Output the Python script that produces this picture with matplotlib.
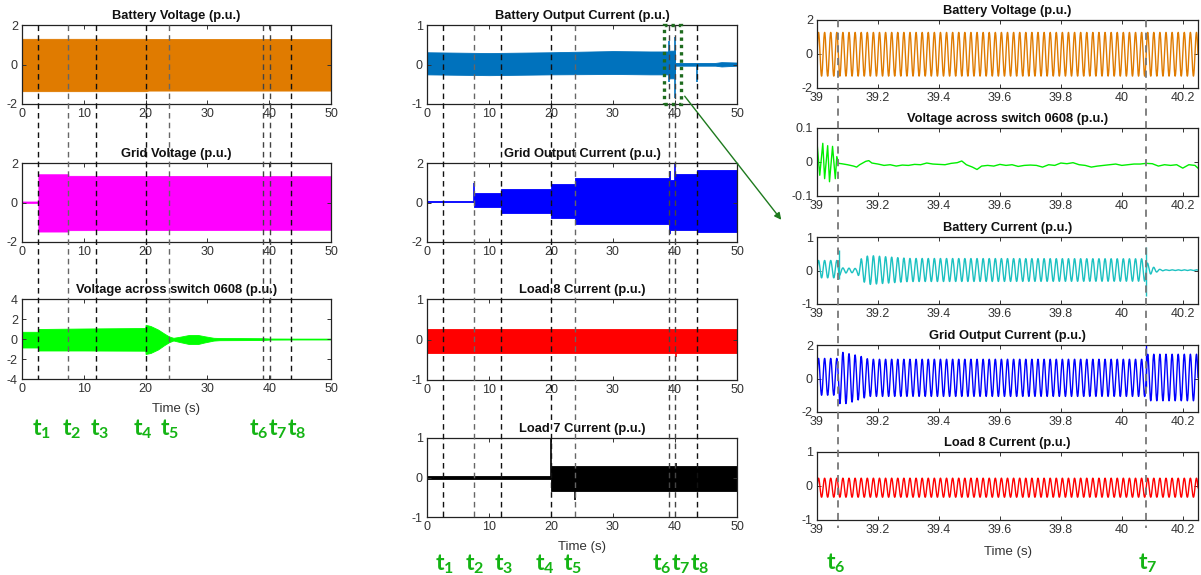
import numpy as np
import matplotlib
matplotlib.use('Agg')
import matplotlib.pyplot as plt
from matplotlib.lines import Line2D
from matplotlib.patches import Rectangle, FancyArrowPatch
import matplotlib.transforms as mtransforms

plt.rcParams['font.family'] = ['Liberation Sans', 'DejaVu Sans']
plt.rcParams['axes.unicode_minus'] = False
plt.rcParams['mathtext.fontset'] = 'custom'
plt.rcParams['mathtext.bf'] = 'Lato:bold'
plt.rcParams['mathtext.rm'] = 'Lato:bold'

# ---------------- data ----------------
event_times = [2.65, 7.5, 11.9, 20.0, 23.8, 39.07, 40.08, 43.5]
event_names = ['1', '2', '3', '4', '5', '6', '7', '8']
left_label_x = [3.2, 8.0, 12.6, 19.6, 23.8, 38.3, 41.4, 44.5]
mid_label_x = [2.9, 7.7, 12.3, 19.0, 23.5, 37.8, 41.0, 44.0]

# Left column envelopes (time, upper, lower)
bv_t = [0, 20, 20.5, 50]
bv_hi = [1.30, 1.30, 1.29, 1.29]
bv_lo = [-1.35, -1.35, -1.32, -1.32]

gv_t = [0, 2.65, 2.65, 7.5, 7.5, 50]
gv_hi = [0.05, 0.05, 1.43, 1.43, 1.35, 1.33]
gv_lo = [-0.02, -0.02, -1.47, -1.47, -1.40, -1.38]

sw_t = [0, 2.65, 2.65, 10, 19.95, 20.0, 20.8, 22.0, 23.0, 23.8, 24.5, 25.5, 27.0, 28.5, 29.5, 31.0, 32.0, 36.0, 39.0, 40.0, 45.0, 50.0]
sw_hi = [0.72, 0.72, 1.0, 1.05, 1.1, 1.42, 1.30, 0.95, 0.55, 0.25, 0.12, 0.22, 0.40, 0.40, 0.28, 0.12, 0.10, 0.09, 0.08, 0.05, 0.04, 0.04]
sw_lo = [-0.85, -0.85, -1.15, -1.15, -1.17, -1.50, -1.40, -1.05, -0.62, -0.32, -0.15, -0.30, -0.50, -0.50, -0.35, -0.16, -0.12, -0.11, -0.10, -0.06, -0.05, -0.05]

# Middle column envelopes
bc_t = [0, 10, 20, 30, 36, 39.0, 39.0, 40.0, 40.0, 46.5, 47.5, 50]
bc_hi = [0.31, 0.29, 0.31, 0.34, 0.33, 0.33, 0.35, 0.35, 0.04, 0.04, 0.06, 0.05]
bc_lo = [-0.25, -0.27, -0.25, -0.24, -0.25, -0.25, -0.35, -0.35, -0.03, -0.03, -0.05, -0.03]
bc_spikes = [(39.07, -0.45, 0.60), (40.05, -0.85, 0.70), (43.5, -0.45, 0.0)]

go_t = [0, 7.5, 7.5, 11.9, 11.9, 20, 20, 23.8, 23.8, 39.0, 39.0, 39.2, 39.2, 40.0, 40.0, 43.5, 43.5, 50]
go_hi = [0.06, 0.06, 0.46, 0.46, 0.68, 0.68, 0.96, 0.96, 1.22, 1.22, 1.60, 1.60, 1.16, 1.16, 1.46, 1.46, 1.63, 1.63]
go_lo = [0.02, 0.02, -0.22, -0.22, -0.54, -0.54, -0.76, -0.76, -1.10, -1.10, -1.55, -1.55, -1.40, -1.40, -1.40, -1.40, -1.50, -1.50]
go_spikes = [(7.5, 0.0, 1.0), (40.05, -0.5, 2.0)]

l8_t = [0, 50]
l8_hi = [0.26, 0.26]
l8_lo = [-0.34, -0.34]
l8_spikes = [(40.1, -0.42, 0.0)]

l7_t = [0, 19.95, 19.95, 50]
l7_hi = [0.03, 0.03, 0.28, 0.28]
l7_lo = [-0.035, -0.035, -0.34, -0.34]
l7_spikes = [(20.0, 0.0, 1.0), (23.8, -0.58, 0.0), (40.1, 0.0, 0.37)]

# Right column (zoom 39 - 40.25 s): 50 Hz waveforms with envelopes
zoom_freq_hz = 50.0
bvz_t = [39.0, 40.25]
bvz_hi = [1.27, 1.27]
bvz_lo = [-1.30, -1.30]

bcz_t = [39.0, 39.068, 39.08, 39.13, 39.145, 39.17, 39.3, 40.075, 40.09, 40.12, 40.14, 40.25]
bcz_hi = [0.30, 0.30, 0.08, 0.06, 0.35, 0.45, 0.36, 0.35, 0.15, 0.04, 0.02, 0.02]
bcz_lo = [-0.22, -0.22, -0.08, -0.06, -0.30, -0.42, -0.33, -0.32, -0.12, -0.03, 0.0, 0.0]
bcz_spikes = [(39.072, -0.25, 0.62), (40.08, -0.76, 0.70)]

gz_t = [39.0, 39.068, 39.075, 39.10, 39.14, 39.17, 40.075, 40.085, 40.25]
gz_hi = [1.20, 1.20, 1.60, 1.50, 1.35, 1.15, 1.15, 1.45, 1.45]
gz_lo = [-1.00, -1.00, -1.50, -1.50, -1.25, -1.07, -1.07, -1.33, -1.33]
gz_spikes = [(40.08, -0.5, 2.0)]

l8z_t = [39.0, 40.25]
l8z_hi = [0.23, 0.23]
l8z_lo = [-0.33, -0.33]

swz_t = [39.0, 39.009, 39.019, 39.025, 39.035, 39.041, 39.051, 39.060, 39.065, 39.071,
         39.08, 39.10, 39.12, 39.13, 39.14, 39.16, 39.17, 39.18, 39.20, 39.22, 39.24, 39.26,
         39.28, 39.30, 39.32, 39.34, 39.36, 39.38, 39.40, 39.42, 39.44, 39.46, 39.475, 39.49,
         39.51, 39.525, 39.54, 39.56, 39.58, 39.60, 39.62, 39.64, 39.66, 39.68, 39.70, 39.72,
         39.74, 39.76, 39.78, 39.80, 39.82, 39.84, 39.86, 39.88, 39.90, 39.92, 39.94, 39.96,
         39.98, 40.00, 40.02, 40.04, 40.06, 40.08, 40.10, 40.12, 40.14, 40.16, 40.18, 40.20,
         40.22, 40.24, 40.25]
swz_v = [0.058, -0.039, 0.055, -0.049, 0.048, -0.058, 0.046, -0.049, 0.016, -0.004,
         -0.005, -0.008, -0.012, -0.015, -0.008, 0.002, 0.004, -0.003, -0.006, -0.010, -0.008, -0.012,
         -0.009, -0.010, -0.007, -0.008, -0.003, -0.006, -0.007, -0.008, -0.004, -0.002, 0.003, -0.008,
         -0.015, -0.022, -0.012, -0.010, -0.012, -0.007, -0.010, -0.008, -0.013, -0.010, -0.009, -0.010,
         -0.015, -0.008, -0.010, -0.003, -0.005, -0.002, -0.008, -0.010, -0.015, -0.012, -0.010, -0.008,
         -0.006, -0.010, -0.008, -0.006, -0.006, -0.004, -0.005, -0.012, -0.008, -0.010, -0.008, -0.018,
         -0.008, -0.010, -0.018]

# ---------------- styling helpers ----------------
W, H = 1201, 575
fig = plt.figure(figsize=(W / 100, H / 100), dpi=100)
TXT = '#333333'
GREEN_T = '#14B414'


def make_ax(x0, x1, ytop, ybot):
    ax = fig.add_axes([x0 / W, 1 - ybot / H, (x1 - x0) / W, (ybot - ytop) / H])
    ax.tick_params(direction='in', top=True, right=True, length=3, width=0.7,
                   labelsize=9, colors=TXT, pad=3)
    for s in ax.spines.values():
        s.set_linewidth(0.9)
        s.set_color('#222222')
    return ax


def style(ax, title, xlim, xticks, ylim, yticks, yticklabels=None):
    ax.set_xlim(*xlim)
    ax.set_ylim(*ylim)
    ax.set_xticks(xticks)
    ax.set_yticks(yticks)
    if yticklabels is not None:
        ax.set_yticklabels(yticklabels)
    ax.set_title(title, fontsize=9.3, fontweight='bold', pad=4, color='#111111')


def band(ax, t, hi, lo, color):
    ax.fill_between(t, lo, hi, color=color, linewidth=0.6, edgecolor=color)


def spikes(ax, sp, color, lw=1.0):
    for (x, lo, hi) in sp:
        ax.vlines(x, lo, hi, color=color, linewidth=lw)


def wave(ax, t, hi, lo, color, sp=None, lw=1.0):
    tt = np.linspace(39.0, 40.25, 6000)
    h = np.interp(tt, t, hi)
    l = np.interp(tt, t, lo)
    mid = (h + l) / 2
    amp = (h - l) / 2
    y = mid + amp * np.sin(2 * np.pi * zoom_freq_hz * (tt - 39.0))
    ax.plot(tt, y, color=color, linewidth=lw)
    if sp:
        spikes(ax, sp, color, lw)


def vlines_fig(ax, times, ytop, ybot, colors, lw=1.0):
    tr = mtransforms.blended_transform_factory(ax.transData, fig.transFigure)
    for x, c in zip(times, colors):
        fig.lines.append(Line2D([x, x], [1 - ytop / H, 1 - ybot / H], transform=tr,
                                color=c, linestyle=(0, (4, 3)), linewidth=lw, zorder=10))


def tlabels(ax, xs, names, y):
    tr = mtransforms.blended_transform_factory(ax.transData, fig.transFigure)
    for x, n in zip(xs, names):
        fig.text(x, 1 - y / H, r'$\mathbf{t_{%s}}$' % n, transform=tr, ha='center', va='center',
                 fontsize=16.5, color=GREEN_T)


line_cols = ['#111111', '#666666', '#111111', '#111111', '#666666', '#444444', '#444444', '#111111']

# ---------------- left column ----------------
LX0, LX1 = 22, 331
axL1 = make_ax(LX0, LX1, 25, 104)
band(axL1, bv_t, bv_hi, bv_lo, '#E07B00')
style(axL1, 'Battery Voltage (p.u.)', (0, 50), [0, 10, 20, 30, 40, 50], (-2, 2), [-2, 0, 2])

axL2 = make_ax(LX0, LX1, 163, 242)
band(axL2, gv_t, gv_hi, gv_lo, '#FF00FF')
style(axL2, 'Grid Voltage (p.u.)', (0, 50), [0, 10, 20, 30, 40, 50], (-2, 2), [-2, 0, 2])

axL3 = make_ax(LX0, LX1, 299, 379)
band(axL3, sw_t, sw_hi, sw_lo, '#00FF00')
style(axL3, 'Voltage across switch 0608 (p.u.)', (0, 50), [0, 10, 20, 30, 40, 50], (-4, 4), [-4, -2, 0, 2, 4])
fig.text((LX0 + LX1) / 2 / W, 1 - 409 / H, 'Time (s)', ha='center', va='center', fontsize=9.5, color=TXT)
vlines_fig(axL1, event_times, 25, 379, line_cols)
tlabels(axL1, left_label_x, event_names, 429)

# ---------------- middle column ----------------
MX0, MX1 = 427, 737
axM1 = make_ax(MX0, MX1, 25, 104)
band(axM1, bc_t, bc_hi, bc_lo, '#0072BD')
spikes(axM1, bc_spikes, '#0072BD', 1.2)
style(axM1, 'Battery Output Current (p.u.)', (0, 50), [0, 10, 20, 30, 40, 50], (-1, 1), [-1, 0, 1])
axM1.add_patch(Rectangle((38.3, -1), 2.6, 2, fill=False, edgecolor='#1E6B1E', linewidth=2.4,
                         linestyle=(0, (1, 1.2)), clip_on=False, zorder=12))

axM2 = make_ax(MX0, MX1, 163, 242)
band(axM2, go_t, go_hi, go_lo, '#0000FF')
spikes(axM2, go_spikes, '#0000FF', 1.2)
style(axM2, 'Grid Output Current (p.u.)', (0, 50), [0, 10, 20, 30, 40, 50], (-2, 2), [-2, 0, 2])

axM3 = make_ax(MX0, MX1, 299, 380)
band(axM3, l8_t, l8_hi, l8_lo, '#FF0000')
spikes(axM3, l8_spikes, '#FF0000', 1.2)
style(axM3, 'Load 8 Current (p.u.)', (0, 50), [0, 10, 20, 30, 40, 50], (-1, 1), [-1, 0, 1])

axM4 = make_ax(MX0, MX1, 438, 517)
band(axM4, l7_t, l7_hi, l7_lo, '#000000')
spikes(axM4, l7_spikes, '#000000', 1.2)
style(axM4, 'Load 7 Current (p.u.)', (0, 50), [0, 10, 20, 30, 40, 50], (-1, 1), [-1, 0, 1])
fig.text((MX0 + MX1) / 2 / W, 1 - 547 / H, 'Time (s)', ha='center', va='center', fontsize=9.5, color=TXT)
vlines_fig(axM1, event_times, 25, 517, line_cols)
tlabels(axM1, mid_label_x, event_names, 564)

# ---------------- right column ----------------
RX0, RX1 = 817, 1198
zx = (39.0, 40.25)
zticks = [39, 39.2, 39.4, 39.6, 39.8, 40, 40.2]
zticklabels = ['39', '39.2', '39.4', '39.6', '39.8', '40', '40.2']

axR1 = make_ax(RX0, RX1, 20, 88)
wave(axR1, bvz_t, bvz_hi, bvz_lo, '#E07B00')
style(axR1, 'Battery Voltage (p.u.)', zx, zticks, (-2, 2), [-2, 0, 2])

axR2 = make_ax(RX0, RX1, 128, 196)
axR2.plot(swz_t, swz_v, color='#00EE00', linewidth=1.0)
style(axR2, 'Voltage across switch 0608 (p.u.)', zx, zticks, (-0.1, 0.1), [-0.1, 0, 0.1], ['-0.1', '0', '0.1'])

axR3 = make_ax(RX0, RX1, 237, 304)
wave(axR3, bcz_t, bcz_hi, bcz_lo, '#1CC1C1', bcz_spikes)
style(axR3, 'Battery Current (p.u.)', zx, zticks, (-1, 1), [-1, 0, 1])

axR4 = make_ax(RX0, RX1, 345, 412)
wave(axR4, gz_t, gz_hi, gz_lo, '#0000FF', gz_spikes)
style(axR4, 'Grid Output Current (p.u.)', zx, zticks, (-2, 2), [-2, 0, 2])

axR5 = make_ax(RX0, RX1, 452, 520)
wave(axR5, l8z_t, l8z_hi, l8z_lo, '#FF0000')
style(axR5, 'Load 8 Current (p.u.)', zx, zticks, (-1, 1), [-1, 0, 1])
for a in (axR1, axR2, axR3, axR4, axR5):
    a.set_xticklabels(zticklabels)
fig.text((RX0 + RX1) / 2 / W, 1 - 552 / H, 'Time (s)', ha='center', va='center', fontsize=9.5, color=TXT)
vlines_fig(axR1, [39.07, 40.08], 20, 528, ['#777777', '#777777'], lw=1.3)
tlabels(axR1, [39.06, 40.085], ['6', '7'], 563)

# zoom arrow
arrow = FancyArrowPatch((683 / W, 1 - 94 / H), (783 / W, 1 - 222 / H), transform=fig.transFigure,
                        arrowstyle='-|>', mutation_scale=10, color='#1E7A1E', linewidth=1.0)
fig.patches.append(arrow)

fig.savefig('out.png', dpi=100)
